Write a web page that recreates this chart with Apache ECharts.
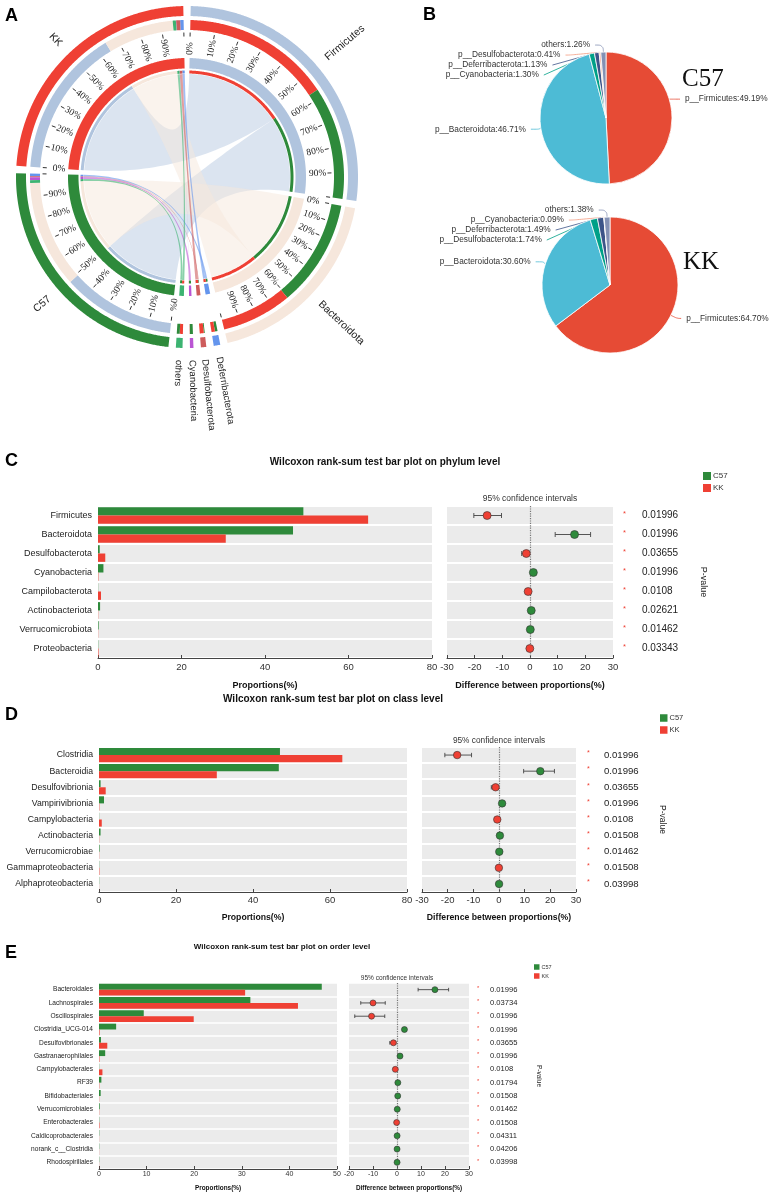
<!DOCTYPE html>
<html lang="en">
<head>
<meta charset="utf-8">
<title>C57 vs KK</title>
<script src="https://cdn.jsdelivr.net/npm/echarts@6/dist/echarts.min.js"></script>
<style>
html, body { margin: 0; padding: 0; background: #fff; }
#main { width: 770px; height: 1192px; }
</style>
</head>
<body>
<div id="main"></div>
<script>
// ---------- A / B : relative abundance (%) ----------
var samples = ['C57', 'KK'];
var phyla = ['Firmicutes', 'Bacteroidota', 'Deferribacterota', 'Desulfobacterota', 'Cyanobacteria', 'others'];
var c57Abund = [49.19, 46.71, 1.13, 0.41, 1.30, 1.26];
var kkAbund = [64.70, 30.60, 1.49, 1.74, 0.09, 1.38];

// ---------- C : phylum level ----------
var phylumCats = ['Firmicutes', 'Bacteroidota', 'Desulfobacterota', 'Cyanobacteria', 'Campilobacterota', 'Actinobacteriota', 'Verrucomicrobiota', 'Proteobacteria'];
var phylumC57 = [49.19, 46.71, 0.41, 1.30, 0.04, 0.50, 0.15, 0.06];
var phylumKK = [64.70, 30.60, 1.74, 0.09, 0.72, 0.05, 0.04, 0.12];
var phylumDiff = [-15.5, 16.1, -1.33, 1.21, -0.68, 0.45, 0.11, -0.06];
var phylumLo = [-20.3, 9.1, -3.0, 0.8, -1.1, 0.15, -0.05, -0.25];
var phylumHi = [-10.3, 21.9, -0.4, 1.6, -0.25, 0.75, 0.25, 0.1];
var phylumP = ['0.01996', '0.01996', '0.03655', '0.01996', '0.0108', '0.02621', '0.01462', '0.03343'];

// ---------- D : class level ----------
var classCats = ['Clostridia', 'Bacteroidia', 'Desulfovibrionia', 'Vampirivibrionia', 'Campylobacteria', 'Actinobacteria', 'Verrucomicrobiae', 'Gammaproteobacteria', 'Alphaproteobacteria'];
var classC57 = [47.0, 46.7, 0.41, 1.30, 0.04, 0.40, 0.15, 0.05, 0.05];
var classKK = [63.2, 30.6, 1.74, 0.09, 0.72, 0.05, 0.04, 0.10, 0.02];
var classDiff = [-16.3, 16.1, -1.33, 1.21, -0.68, 0.35, 0.11, -0.05, 0.03];
var classLo = [-21.1, 9.6, -3.0, 0.8, -1.1, 0.1, -0.05, -0.2, -0.05];
var classHi = [-10.7, 21.6, -0.4, 1.6, -0.25, 0.6, 0.25, 0.1, 0.1];
var classP = ['0.01996', '0.01996', '0.03655', '0.01996', '0.0108', '0.01508', '0.01462', '0.01508', '0.03998'];

// ---------- E : order level ----------
var orderCats = ['Bacteroidales', 'Lachnospirales', 'Oscillospirales', 'Clostridia_UCG-014', 'Desulfovibrionales', 'Gastranaerophilales', 'Campylobacterales', 'RF39', 'Bifidobacteriales', 'Verrucomicrobiales', 'Enterobacterales', 'Caldicoprobacterales', 'norank_c__Clostridia', 'Rhodospirillales'];
var orderC57 = [46.8, 31.8, 9.4, 3.6, 0.41, 1.30, 0.04, 0.50, 0.35, 0.15, 0.05, 0.06, 0.05, 0.05];
var orderKK = [30.7, 41.8, 19.9, 0.12, 1.74, 0.09, 0.72, 0.06, 0.04, 0.04, 0.10, 0.02, 0.02, 0.02];
var orderDiff = [15.8, -10.0, -10.6, 3.1, -1.5, 1.25, -0.7, 0.35, 0.3, 0.1, -0.15, 0.04, 0.03, 0.03];
var orderLo = [8.8, -15.1, -17.6, 2.4, -3.0, 0.8, -1.1, 0.1, 0.1, -0.05, -0.3, -0.05, -0.05, -0.05];
var orderHi = [21.5, -4.9, -5.1, 3.8, -0.5, 1.7, -0.25, 0.6, 0.5, 0.25, 0.05, 0.1, 0.1, 0.1];
var orderP = ['0.01996', '0.03734', '0.01996', '0.01996', '0.03655', '0.01996', '0.0108', '0.01794', '0.01508', '0.01462', '0.01508', '0.04311', '0.04206', '0.03998'];

var RED = '#EF4034', GREEN = '#2E8A3B';
var SANS = '"Liberation Sans", Arial, sans-serif';
var SERIF = '"Liberation Serif", "Times New Roman", serif';

function sum(a) { return a.reduce(function (s, v) { return s + v; }, 0); }

// ================= A : chord diagram on a polar system =================
// sectors: phyla first, then samples (clockwise from 12 o'clock)
var sectorColors = ['#B0C4DE', '#F6E7DC', '#6495ED', '#CD5C5C', '#BA55D3', '#3CB371', GREEN, RED];
var sectorNames = phyla.concat(samples);
var sampleAbund = [c57Abund, kkAbund];
var sectorSize = phyla.map(function (p, i) { return c57Abund[i] + kkAbund[i]; })
    .concat([sum(c57Abund), sum(kkAbund)]);
var GAP_DEG = 2.5;
var GAP = GAP_DEG * sum(sectorSize) / (360 - GAP_DEG * sectorSize.length);
var TOTAL = sum(sectorSize) + GAP * sectorSize.length;
var sectorStart = [];
(function () {
    var acc = GAP / 2;
    sectorSize.forEach(function (s) { sectorStart.push(acc); acc += s + GAP; });
})();

// which sample comes first inside each phylum sector, and phylum order inside sample sectors
var phylumSideOrder = [[1, 0], [0, 1], [0, 1], [0, 1], [0, 1], [1, 0]];
var sampleSideOrder = [0, 1, 5, 4, 3, 2];

var links = [];
(function () {
    phyla.forEach(function (p, i) {
        var cur = sectorStart[i];
        phylumSideOrder[i].forEach(function (j) {
            var v = sampleAbund[j][i];
            links.push({ p: i, s: j, v: v, pa0: cur, pa1: cur + v });
            cur += v;
        });
    });
    samples.forEach(function (s, j) {
        var cur = sectorStart[phyla.length + j];
        sampleSideOrder.forEach(function (i) {
            var l = links.filter(function (x) { return x.p === i && x.s === j; })[0];
            l.sa0 = cur; l.sa1 = cur + l.v; cur += l.v;
        });
    });
})();

var R_THIN = [103.5, 106.5], R_IN = [108.5, 119], R_LAB = 122, R_TICK = [140.5, 144.5], R_COMP = [147, 157], R_OUT = [161, 171], R_NAME = 183;

var arcRows = [];
sectorSize.forEach(function (s, k) {
    arcRows.push([R_IN[0], R_IN[1], sectorStart[k], sectorStart[k] + s, k]);
    arcRows.push([R_OUT[0], R_OUT[1], sectorStart[k], sectorStart[k] + s, k]);
});
links.forEach(function (l) {
    var sc = phyla.length + l.s;
    [R_THIN, R_COMP].forEach(function (rr) {
        arcRows.push([rr[0], rr[1], l.pa0, l.pa1, sc]);
        arcRows.push([rr[0], rr[1], l.sa0, l.sa1, l.p]);
    });
});
var chordRows = links.map(function (l) { return [l.pa0, l.pa1, l.sa0, l.sa1, l.p]; });
var tickRows = [];
[0, 1, 6, 7].forEach(function (k) {
    for (var t = 0; t <= 10; t++) tickRows.push([k, t]);
});
var nameRows = sectorNames.map(function (n, k) { return [k]; });

function arcPts(api, r, a0, a1) {
    var n = Math.max(2, Math.ceil(Math.abs(a1 - a0) / 0.4) + 1), out = [];
    for (var k = 0; k < n; k++) out.push(api.coord([r, a0 + (a1 - a0) * k / (n - 1)]));
    return out;
}
function bez(p0, c, p1) {
    var out = [];
    for (var t = 1; t < 40; t++) {
        var u = t / 40;
        out.push([(1 - u) * (1 - u) * p0[0] + 2 * u * (1 - u) * c[0] + u * u * p1[0],
                  (1 - u) * (1 - u) * p0[1] + 2 * u * (1 - u) * c[1] + u * u * p1[1]]);
    }
    return out;
}
function radialText(api, r, a, text, font, color) {
    var c = api.coord([0, 0]), p = api.coord([r, a]);
    var th = Math.atan2(-(p[1] - c[1]), p[0] - c[0]);
    var phi = ((90 - th * 180 / Math.PI) % 360 + 360) % 360;
    var right = phi < 190;
    return {
        type: 'text', x: p[0], y: p[1], rotation: right ? th : th + Math.PI,
        style: { text: text, font: font, fill: color, align: right ? 'left' : 'right', verticalAlign: 'middle' }
    };
}
function hexA(hex, a) {
    var n = parseInt(hex.slice(1), 16);
    return 'rgba(' + (n >> 16) + ',' + ((n >> 8) & 255) + ',' + (n & 255) + ',' + a + ')';
}

var chordSeries = [
    {
        type: 'custom', coordinateSystem: 'polar', silent: true, z: 1,
        data: chordRows,
        renderItem: function (params, api) {
            var pa0 = api.value(0), pa1 = api.value(1), sa0 = api.value(2), sa1 = api.value(3), k = api.value(4);
            var c = api.coord([0, 0]);
            var A = arcPts(api, R_THIN[0] - 0.5, sa0, sa1), B = arcPts(api, R_THIN[0] - 0.5, pa0, pa1);
            var pts = A.concat(bez(A[A.length - 1], c, B[0])).concat(B).concat(bez(B[B.length - 1], c, A[0]));
            var alpha = k === 0 ? 0.45 : (k === 1 ? 0.5 : 0.6);
            return { type: 'polygon', shape: { points: pts }, style: { fill: hexA(sectorColors[k], alpha) } };
        }
    },
    {
        type: 'custom', coordinateSystem: 'polar', silent: true, z: 2,
        data: arcRows,
        renderItem: function (params, api) {
            var r0 = api.value(0), r1 = api.value(1), a0 = api.value(2), a1 = api.value(3);
            var pts = arcPts(api, r1, a0, a1).concat(arcPts(api, r0, a1, a0));
            return { type: 'polygon', shape: { points: pts }, style: { fill: sectorColors[api.value(4)] } };
        }
    },
    {
        type: 'custom', coordinateSystem: 'polar', silent: true, z: 3,
        data: tickRows,
        renderItem: function (params, api) {
            var k = api.value(0), t = api.value(1);
            var a = sectorStart[k] + sectorSize[k] * t / 10;
            var p0 = api.coord([R_TICK[0], a]), p1 = api.coord([R_TICK[1], a]);
            var kids = [{ type: 'line', shape: { x1: p0[0], y1: p0[1], x2: p1[0], y2: p1[1] }, style: { stroke: '#333', lineWidth: 1 } }];
            if (t < 10) kids.push(radialText(api, R_LAB, a, t * 10 + '%', '9.5px ' + SERIF, '#222'));
            return { type: 'group', children: kids };
        }
    },
    {
        type: 'custom', coordinateSystem: 'polar', silent: true, z: 3,
        data: nameRows,
        renderItem: function (params, api) {
            var k = api.value(0);
            return radialText(api, R_NAME, sectorStart[k] + sectorSize[k] / 2, sectorNames[k], (k < 2 || k > 5 ? '10.5px ' : '9.5px ') + SANS, '#222');
        }
    }
];

// ================= B : pies =================
var NPG = ['#E64B35', '#4DBBD5', '#00A087', '#3C5488', '#F39B7F', '#8491B4'];
function pieData(abund) {
    var idx = phyla.map(function (p, i) { return i; }).filter(function (i) { return phyla[i] !== 'others'; });
    idx.sort(function (a, b) { return abund[b] - abund[a]; });
    idx.push(phyla.indexOf('others'));
    return idx.map(function (i, pos) {
        return { name: phyla[i] === 'others' ? 'others' : 'p__' + phyla[i], value: abund[i], itemStyle: { color: NPG[pos] } };
    });
}
function pieSeries(abund, center, radius, lift, shift) {
    return {
        type: 'pie', center: center, radius: radius, startAngle: 90, clockwise: true, silent: true,
        data: pieData(abund),
        itemStyle: { borderColor: '#fff', borderWidth: 0.8 },
        label: {
            show: true, position: 'outside', color: '#333', fontSize: 8.3, fontFamily: SANS, overflow: 'none',
            formatter: function (p) { return p.name + ':' + p.value.toFixed(2) + '%'; }
        },
        labelLine: { show: true, length: 7, length2: 8, smooth: 0.4, lineStyle: { width: 0.8 } },
        labelLayout: function (p) {
            // nudge the largest slice's label, keeping its leader attached to the pie edge
            if (p.dataIndex !== 0 || !p.labelLinePoints) return {};
            var pts = p.labelLinePoints;
            if (!lift) {
                return { dx: shift, labelLinePoints: [pts[0], pts[1], [pts[2][0] + shift, pts[2][1]]] };
            }
            var ny = pts[2][1] + lift;
            var ex = center[0] + Math.sqrt(radius * radius - (ny - center[1]) * (ny - center[1]));
            return { dx: shift, dy: lift, labelLinePoints: [[ex, ny], [ex + 4, ny], [pts[2][0] + shift, ny]] };
        }
    };
}

// ================= C, D, E : Wilcoxon bar + CI panels =================
var grids = [], xAxes = [], yAxes = [], series = [], legends = [], graphics = [];

function addPanel(cfg) {
    var g = grids.length, xa = xAxes.length, ya = yAxes.length;
    grids.push({ left: cfg.lx, top: cfg.top, width: cfg.lw, height: cfg.h, show: true, backgroundColor: '#EBEBEB', borderWidth: 0 });
    grids.push({ left: cfg.rx, top: cfg.top, width: cfg.rw, height: cfg.h, show: true, backgroundColor: '#EBEBEB', borderWidth: 0 });
    var xBase = {
        type: 'value', splitLine: { show: false },
        axisLine: { show: true, onZero: false, lineStyle: { color: '#444', width: 1 } },
        axisTick: { show: true, inside: true, length: 3, lineStyle: { color: '#444' } },
        axisLabel: { fontSize: cfg.tickFs, color: '#333', margin: cfg.tickMargin, fontFamily: SANS },
        nameLocation: 'middle', nameGap: cfg.nameGap,
        nameTextStyle: { fontWeight: 'bold', fontSize: cfg.nameFs, color: '#111', fontFamily: SANS }
    };
    xAxes.push(Object.assign({}, xBase, { gridIndex: g, min: 0, max: cfg.max, interval: cfg.step, name: 'Proportions(%)' }));
    xAxes.push(Object.assign({}, xBase, { gridIndex: g + 1, min: cfg.dmin, max: cfg.dmax, interval: 10, name: 'Difference between proportions(%)' }));
    var split = { show: true, interval: 0, lineStyle: { color: '#fff', width: cfg.sepW } };
    yAxes.push({
        gridIndex: g, type: 'category', data: cfg.cats, inverse: true,
        axisLine: { show: false }, axisTick: { show: false }, splitLine: split,
        axisLabel: { fontSize: cfg.catFs, color: '#222', margin: 6, fontFamily: SANS, interval: 0 }
    });
    yAxes.push({
        gridIndex: g + 1, type: 'category', data: cfg.cats, inverse: true,
        axisLine: { show: false }, axisTick: { show: false }, axisLabel: { show: false }, splitLine: split
    });
    yAxes.push({
        gridIndex: g + 1, type: 'category', position: 'right', data: cfg.p, inverse: true,
        axisLine: { show: false }, axisTick: { show: false }, splitLine: { show: false },
        axisLabel: {
            margin: cfg.pMargin, interval: 0, formatter: function (v) { return '{s|*}{p|' + v + '}'; },
            rich: {
                s: { color: RED, fontSize: cfg.pFs * 0.75, width: cfg.starW, verticalAlign: 'bottom', padding: [0, 0, cfg.pFs * 0.35, 0], fontFamily: SANS },
                p: { color: '#222', fontSize: cfg.pFs, fontFamily: SANS }
            }
        },
        name: 'P-value', nameLocation: 'middle', nameRotate: -90, nameGap: cfg.pNameGap,
        nameTextStyle: { fontSize: cfg.pNameFs, color: '#222', fontFamily: SANS }
    });
    series.push({
        type: 'bar', name: 'C57', xAxisIndex: xa, yAxisIndex: ya, data: cfg.c57, silent: true,
        itemStyle: { color: GREEN }, barGap: '0%', barCategoryGap: cfg.bandGap
    });
    series.push({
        type: 'bar', name: 'KK', xAxisIndex: xa, yAxisIndex: ya, data: cfg.kk, silent: true,
        itemStyle: { color: RED }, barGap: '0%', barCategoryGap: cfg.bandGap
    });
    series.push({
        type: 'custom', name: 'ci', xAxisIndex: xa + 1, yAxisIndex: ya + 1, silent: true, z: 3,
        data: cfg.lo.map(function (v, i) { return [v, cfg.hi[i], i]; }),
        encode: { x: [0, 1], y: 2 },
        renderItem: function (params, api) {
            var a = api.coord([api.value(0), api.value(2)]), b = api.coord([api.value(1), api.value(2)]);
            var h = cfg.cap, st = { stroke: '#444', lineWidth: 0.9 };
            return {
                type: 'group', children: [
                    { type: 'line', shape: { x1: a[0], y1: a[1], x2: b[0], y2: b[1] }, style: st },
                    { type: 'line', shape: { x1: a[0], y1: a[1] - h, x2: a[0], y2: a[1] + h }, style: st },
                    { type: 'line', shape: { x1: b[0], y1: b[1] - h, x2: b[0], y2: b[1] + h }, style: st }
                ]
            };
        }
    });
    series.push({
        type: 'scatter', name: 'diff', xAxisIndex: xa + 1, yAxisIndex: ya + 1, silent: true, z: 4,
        data: cfg.diff.map(function (v, i) { return [v, i]; }),
        symbolSize: cfg.dot,
        itemStyle: {
            color: function (p) { return p.value[0] < 0 ? RED : GREEN; },
            borderColor: '#333', borderWidth: 0.6, opacity: 1
        },
        markLine: {
            silent: true, symbol: 'none', label: { show: false }, z: 2,
            lineStyle: { type: 'dotted', color: '#777', width: 1.2 },
            data: [{ xAxis: 0 }]
        }
    });
    legends.push({
        data: ['C57', 'KK'], orient: 'vertical', left: cfg.legX, top: cfg.legY, selectedMode: false,
        icon: 'rect', itemWidth: cfg.legIcon, itemHeight: cfg.legIcon, itemGap: cfg.legGap, padding: 0,
        textStyle: { fontSize: cfg.legFs, color: '#333', fontFamily: SANS, padding: [0, 0, 0, -3] }
    });
    var zeroX = cfg.rx + cfg.rw * (0 - cfg.dmin) / (cfg.dmax - cfg.dmin);
    graphics.push({ type: 'text', x: zeroX, y: cfg.ciY, style: { text: '95% confidence intervals', font: cfg.ciFs + 'px ' + SANS, fill: '#333', align: 'center', verticalAlign: 'middle' } });
    graphics.push({ type: 'text', x: cfg.titleX, y: cfg.titleY, style: { text: cfg.title, font: 'bold ' + cfg.titleFs + 'px ' + SANS, fill: '#111', align: 'center', verticalAlign: 'middle' } });
}

addPanel({
    cats: phylumCats, c57: phylumC57, kk: phylumKK, diff: phylumDiff, lo: phylumLo, hi: phylumHi, p: phylumP,
    title: 'Wilcoxon rank-sum test bar plot on phylum level', titleX: 385, titleY: 462, titleFs: 10,
    lx: 98, lw: 334, rx: 447, rw: 166, top: 506, h: 152, max: 80, step: 20, dmin: -30, dmax: 30,
    catFs: 9, tickFs: 9.5, tickMargin: 4, nameFs: 9, nameGap: 23, sepW: 2.2, bandGap: '12%',
    pFs: 10, starW: 19, pMargin: 10, pNameGap: 86, pNameFs: 9, dot: 8, cap: 2.5,
    legX: 703, legY: 472, legIcon: 8, legGap: 4, legFs: 8, ciY: 499, ciFs: 8.5
});
addPanel({
    cats: classCats, c57: classC57, kk: classKK, diff: classDiff, lo: classLo, hi: classHi, p: classP,
    title: 'Wilcoxon rank-sum test bar plot on class level', titleX: 333, titleY: 699, titleFs: 10,
    lx: 99, lw: 308, rx: 422, rw: 154, top: 747, h: 145, max: 80, step: 20, dmin: -30, dmax: 30,
    catFs: 8.7, tickFs: 9.5, tickMargin: 3, nameFs: 8.7, nameGap: 21, sepW: 2, bandGap: '12%',
    pFs: 9.6, starW: 17, pMargin: 11, pNameGap: 82, pNameFs: 8.5, dot: 7.5, cap: 2.2,
    legX: 660, legY: 714, legIcon: 7.5, legGap: 4, legFs: 7.5, ciY: 741, ciFs: 8.3
});
addPanel({
    cats: orderCats, c57: orderC57, kk: orderKK, diff: orderDiff, lo: orderLo, hi: orderHi, p: orderP,
    title: 'Wilcoxon rank-sum test bar plot on order level', titleX: 282, titleY: 947, titleFs: 8,
    lx: 99, lw: 238, rx: 349, rw: 120, top: 983, h: 187, max: 50, step: 10, dmin: -20, dmax: 30,
    catFs: 6.6, tickFs: 7, tickMargin: 2, nameFs: 6.4, nameGap: 16, sepW: 1.6, bandGap: '12%',
    pFs: 7.6, starW: 13, pMargin: 8, pNameGap: 66, pNameFs: 6.5, dot: 6, cap: 1.8,
    legX: 534, legY: 964, legIcon: 5.5, legGap: 3, legFs: 5.5, ciY: 978, ciFs: 6.5
});

// panel letters and pie captions
[['A', 5, 7], ['B', 423, 6], ['C', 5, 452], ['D', 5, 706], ['E', 5, 944]].forEach(function (l) {
    graphics.push({ type: 'text', x: l[1], y: l[2], style: { text: l[0], font: 'bold 18px ' + SANS, fill: '#000', verticalAlign: 'top' } });
});
graphics.push({ type: 'text', x: 682, y: 79, style: { text: samples[0], font: '25px ' + SERIF, fill: '#111', verticalAlign: 'middle' } });
graphics.push({ type: 'text', x: 683, y: 262, style: { text: samples[1], font: '25px ' + SERIF, fill: '#111', verticalAlign: 'middle' } });

var chart = echarts.init(document.getElementById('main'));
chart.setOption({
    animation: false,
    backgroundColor: '#fff',
    textStyle: { fontFamily: SANS },
    polar: { center: [187, 177], radius: 175 },
    angleAxis: { type: 'value', min: 0, max: TOTAL, startAngle: 90, clockwise: true, show: false },
    radiusAxis: { type: 'value', min: 0, max: 175, show: false },
    grid: grids,
    xAxis: xAxes,
    yAxis: yAxes,
    legend: legends,
    graphic: graphics,
    series: chordSeries.concat([
        pieSeries(c57Abund, [606, 118], 66, -17, -7),
        pieSeries(kkAbund, [610, 285], 68, 0, -4)
    ]).concat(series)
});
</script>
</body>
</html>
